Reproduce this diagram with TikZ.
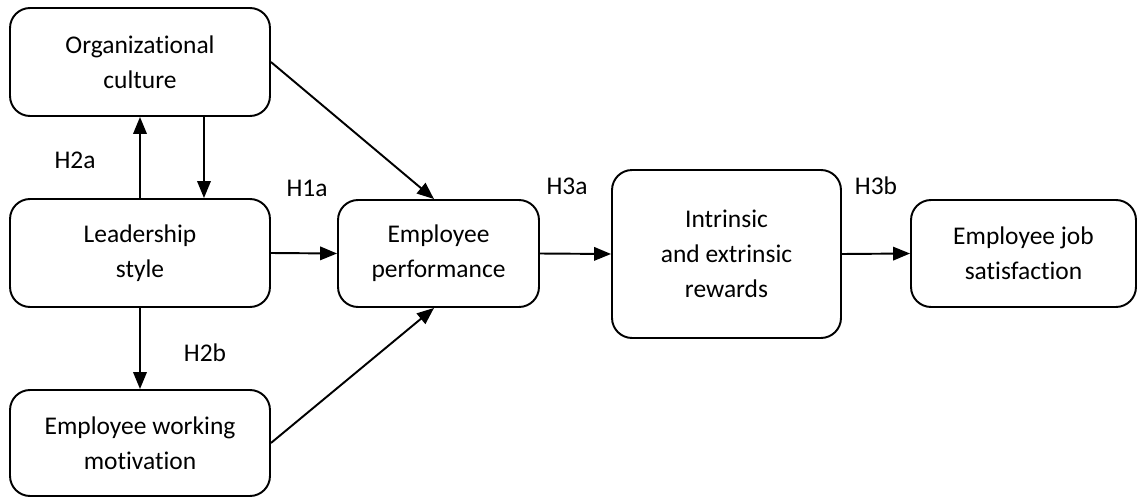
\documentclass[tikz,border=0pt]{standalone}
\usepackage{fontspec}
\setmainfont{Carlito}[Ligatures=NoCommon]
\usepackage{tikz}
\usetikzlibrary{arrows.meta}

\begin{document}
\begin{tikzpicture}[x=0.02cm,y=-0.02cm,
      factor/.style={draw, rectangle, rounded corners=0.4cm, line width=1.1pt, align=center,
        font=\fontsize{14.5}{20}\selectfont, minimum width=5.2cm, minimum height=2.16cm},
      hyp/.style={font=\fontsize{14.5}{16}\selectfont},
      link/.style={-{Triangle[length=0.34cm,width=0.27cm]}, line width=1.1pt}
    ]
    \useasboundingbox (0,0) rectangle (1137,497);

    \node[factor] (org) at (140,62) {Organizational\\culture};
    \node[factor] (lead) at (140,253) {Leadership\\style};
    \node[factor, minimum height=2.12cm] (motiv) at (140,443) {Employee working\\motivation};
    \node[factor, minimum width=4.02cm, minimum height=2.14cm] (perf) at (438.5,253.5) {Employee\\performance};
    \node[factor, minimum width=4.58cm, minimum height=3.36cm] (rew) at (726.5,254) {Intrinsic\\and extrinsic\\rewards};
    \node[factor, minimum width=4.5cm, minimum height=2.14cm] (sat) at (1023.5,253.5) {Employee job\\satisfaction};

    \node[hyp] (h2a) at (75,160) {H2a};
    \node[hyp] (h1a) at (307,188) {H1a};
    \node[hyp] (h2b) at (205,353) {H2b};
    \node[hyp] (h3a) at (567,186) {H3a};
    \node[hyp] (h3b) at (876,186) {H3b};

    \draw[link] (lead.north) -- (org.south);
    \draw[link] ([xshift=1.28cm]org.south) -- ([xshift=1.28cm]lead.north);
    \draw[link] (lead.south) -- (motiv.north);
    \draw[link] (org.east) -- ([xshift=-0.09cm]perf.north);
    \draw[link] (lead.east) -- (perf.west);
    \draw[link] (motiv.east) -- ([xshift=-0.09cm]perf.south);
    \draw[link] (perf.east) -- (rew.west);
    \draw[link] (rew.east) -- (sat.west);
  \end{tikzpicture}
\end{document}
